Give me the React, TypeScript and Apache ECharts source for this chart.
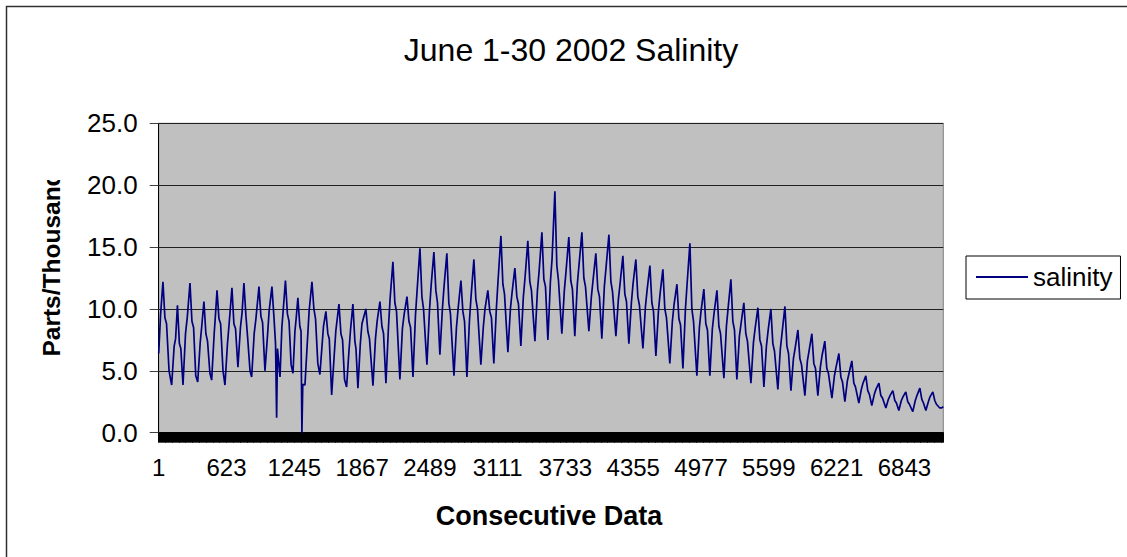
import React, { useEffect, useRef } from "react";
import * as echarts from "echarts";

const TITLE = "June 1-30 2002 Salinity";
const SERIES_NAME = "salinity";
const X_AXIS_NAME = "Consecutive Data";
const Y_AXIS_NAME = "Parts/Thousand";
const TOTAL_READINGS = 7200;
const LABEL_STEP = 622;
const Y_MIN = 0;
const Y_MAX = 25;
const Y_STEP = 5;

// reading number (0-based) of each turning point / shoulder (one tide per row)
const readingIndex = [
  0, 17, 39, 57, 72, 95, 119, 142, 155,
  172, 190, 203, 223, 246, 262,
  287, 305, 320, 340, 358, 381, 395,
  415, 433, 448, 470, 486, 509, 520,
  535, 553, 568, 590, 608, 631, 648,
  672, 690, 705, 727, 750, 765,
  782, 800, 815, 838, 853, 876, 892,
  920, 938, 953, 975, 998, 1013,
  1039, 1057, 1072, 1082, 1090, 1113, 1130, 1145,
  1163, 1181, 1196, 1215, 1232, 1250, 1262,
  1277, 1295, 1306, 1314, 1322, 1342, 1365, 1380,
  1406, 1424, 1439, 1460, 1479, 1500, 1512,
  1534, 1552, 1565, 1587, 1610, 1625,
  1654, 1672, 1687, 1705, 1724, 1745, 1760,
  1782, 1800, 1810, 1828, 1850, 1865,
  1901, 1919, 1934, 1966, 1989, 2004,
  2030, 2048, 2063, 2085, 2108, 2123,
  2149, 2167, 2182, 2213, 2236, 2251,
  2278, 2296, 2311, 2333, 2356, 2371,
  2397, 2415, 2430, 2461, 2484, 2499,
  2525, 2543, 2558, 2580, 2603, 2618,
  2644, 2662, 2677, 2709, 2732, 2747,
  2773, 2791, 2806, 2828, 2851, 2866,
  2892, 2910, 2925, 2956, 2979, 2994,
  3020, 3038, 3053, 3075, 3098, 3113,
  3140, 3158, 3173, 3204, 3227, 3242,
  3268, 3286, 3301, 3323, 3346, 3361,
  3387, 3405, 3420, 3452, 3475, 3490,
  3516, 3534, 3549, 3571, 3594, 3609,
  3635, 3653, 3668, 3699, 3722, 3737,
  3763, 3781, 3796, 3818, 3841, 3856,
  3883, 3901, 3916, 3947, 3970, 3985,
  4011, 4029, 4044, 4066, 4089, 4104,
  4131, 4149, 4164, 4195, 4218, 4233,
  4259, 4277, 4292, 4314, 4337, 4352,
  4378, 4396, 4411, 4443, 4466, 4481,
  4507, 4525, 4540, 4562, 4585, 4600,
  4626, 4644, 4659, 4690, 4713, 4728,
  4755, 4773, 4788, 4810, 4833, 4848,
  4874, 4892, 4907, 4938, 4961, 4976,
  5002, 5020, 5035, 5057, 5080, 5095,
  5122, 5140, 5155, 5186, 5209, 5224,
  5250, 5268, 5283, 5305, 5328, 5343,
  5369, 5387, 5402, 5434, 5457, 5472,
  5498, 5516, 5531, 5553, 5576, 5591,
  5617, 5635, 5650, 5681, 5704, 5719,
  5746, 5764, 5779, 5801, 5824, 5839,
  5865, 5883, 5898, 5929, 5952, 5967,
  5993, 6011, 6026, 6048, 6071, 6086,
  6112, 6130, 6145, 6177, 6200, 6215,
  6241, 6259, 6274, 6296, 6319, 6334,
  6360, 6378, 6393, 6424, 6447, 6462,
  6488, 6506, 6521, 6543, 6566, 6581,
  6608, 6626, 6641, 6672, 6695, 6710,
  6736, 6754, 6769, 6791, 6814, 6829,
  6855, 6873, 6888, 6919, 6942, 6957,
  6984, 7002, 7017, 7039, 7062, 7077,
  7103, 7121, 7136, 7167, 7185, 7199,
];

// salinity (parts per thousand) at those readings, same rows
const salinity = [
  6.4, 9.5, 12.2, 9.3, 8.8, 5.0, 3.85, 7.0, 7.6,
  10.3, 7.2, 6.8, 3.85, 8.0, 9.3,
  12.1, 9.0, 8.5, 4.6, 4.1, 7.3, 8.6,
  10.6, 8.0, 7.4, 4.8, 4.25, 8.0, 9.4,
  11.5, 9.2, 8.8, 5.0, 3.85, 7.2, 9.0,
  11.7, 8.8, 8.4, 5.3, 8.5, 9.7,
  12.1, 9.5, 7.8, 5.0, 4.5, 8.0, 9.2,
  11.8, 9.4, 8.9, 5.0, 7.8, 9.8,
  11.8, 9.4, 7.2, 1.2, 6.8, 4.5, 8.5, 10.2,
  12.3, 9.6, 9.0, 5.5, 4.8, 8.2, 9.3,
  10.9, 8.6, 8.2, 0.0, 3.9, 3.85, 7.5, 9.8,
  12.2, 10.0, 9.2, 5.6, 4.7, 7.2, 8.6,
  9.8, 8.0, 7.6, 3.05, 6.2, 8.2,
  10.4, 8.0, 7.5, 4.3, 3.7, 6.5, 8.3,
  10.4, 7.4, 6.8, 3.6, 7.2, 8.8,
  10.0, 8.2, 7.6, 3.8, 7.6, 9.0,
  10.6, 8.6, 8.0, 4.0, 8.5, 10.8,
  13.8, 10.5, 9.8, 4.3, 8.4, 9.5,
  11.0, 9.0, 8.5, 4.5, 9.5, 11.5,
  14.9, 11.0, 10.0, 5.5, 9.8, 11.8,
  14.6, 11.5, 10.5, 6.3, 10.0, 11.8,
  14.5, 10.5, 9.6, 4.6, 8.5, 10.0,
  12.3, 9.8, 9.0, 4.5, 9.0, 11.0,
  14.0, 10.8, 10.0, 5.5, 8.6, 10.0,
  11.5, 9.8, 9.3, 5.6, 10.0, 12.2,
  15.9, 12.0, 11.2, 6.5, 10.0, 11.3,
  13.3, 11.0, 10.4, 7.0, 11.0, 12.5,
  15.5, 12.2, 11.5, 7.4, 11.5, 13.0,
  16.2, 12.4, 11.8, 7.5, 12.2, 14.0,
  19.5, 13.5, 12.3, 8.0, 11.5, 13.0,
  15.8, 12.3, 11.6, 7.8, 12.0, 13.5,
  16.2, 12.5, 11.8, 8.2, 11.0, 12.3,
  14.5, 11.6, 11.0, 7.6, 11.8, 13.3,
  16.0, 12.2, 11.4, 7.8, 10.8, 12.0,
  14.3, 11.2, 10.6, 7.2, 10.5, 12.0,
  14.0, 11.0, 10.3, 6.8, 10.2, 11.5,
  13.5, 10.5, 9.8, 6.2, 9.8, 11.2,
  13.2, 10.0, 9.3, 5.6, 9.0, 10.3,
  12.0, 9.2, 8.7, 5.2, 10.0, 12.0,
  15.3, 10.0, 9.0, 4.6, 8.5, 9.8,
  11.6, 8.8, 8.3, 4.6, 8.4, 9.6,
  11.5, 8.6, 8.0, 4.4, 8.6, 10.0,
  12.4, 9.0, 8.3, 4.3, 7.8, 8.8,
  10.5, 8.0, 7.4, 4.0, 7.3, 8.4,
  10.1, 7.5, 7.0, 3.7, 7.0, 8.2,
  10.0, 7.2, 6.6, 3.5, 6.8, 8.0,
  10.2, 7.0, 6.4, 3.4, 6.0, 6.8,
  8.3, 6.0, 5.5, 3.0, 5.8, 6.6,
  8.0, 5.6, 5.2, 3.0, 5.3, 6.2,
  7.4, 5.2, 4.8, 2.8, 4.6, 5.3,
  6.4, 4.5, 4.1, 2.5, 4.2, 4.8,
  5.8, 4.0, 3.7, 2.4, 3.5, 4.0,
  4.6, 3.4, 3.1, 2.2, 3.1, 3.5,
  4.0, 3.0, 2.8, 2.0, 2.7, 3.0,
  3.4, 2.6, 2.4, 1.8, 2.6, 2.9,
  3.3, 2.5, 2.3, 1.7, 2.6, 3.0,
  3.6, 2.7, 2.4, 1.8, 2.5, 2.9,
  3.3, 2.6, 2.3, 2.0, 2.0, 2.1,
];

const FONT = "'Liberation Sans', Arial, Helvetica, sans-serif";

export default function App() {
  const ref = useRef<HTMLDivElement>(null);

  useEffect(() => {
    if (!ref.current) return;
    const chart = echarts.init(ref.current, undefined, { renderer: "svg" });
    const n = Math.min(readingIndex.length, salinity.length);
    const data = readingIndex.slice(0, n).map((x, i) => [x, salinity[i]]);
    const xMax = TOTAL_READINGS - 1;

    chart.setOption({
      animation: false,
      backgroundColor: "#ffffff",
      textStyle: { fontFamily: FONT },
      grid: {
        left: 158.7,
        top: 123.3,
        width: 784.6,
        height: 309.4,
        show: true,
        backgroundColor: "#c0c0c0",
        borderColor: "#808080",
        borderWidth: 1,
      },
      legend: {
        left: 966,
        top: 256,
        orient: "vertical",
        padding: [8, 8, 9, 10],
        borderColor: "#000",
        borderWidth: 1,
        backgroundColor: "#fff",
        itemWidth: 52,
        itemHeight: 2,
        icon: "rect",
        textStyle: { fontSize: 26, color: "#000", fontFamily: FONT },
        data: [SERIES_NAME],
      },
      xAxis: [
        {
          type: "value",
          min: 0,
          max: xMax,
          interval: LABEL_STEP,
          axisLine: { show: false },
          axisTick: { show: false },
          splitLine: { show: false },
          axisLabel: {
            formatter: (v: number) => String(v + 1),
            showMaxLabel: false,
            fontSize: 24,
            color: "#000",
            margin: 23,
            fontFamily: FONT,
          },
        },
        {
          type: "value",
          min: 0,
          max: xMax,
          interval: 8,
          position: "bottom",
          axisLabel: { show: false },
          axisLine: { show: true, lineStyle: { color: "#000", width: 1 } },
          axisTick: { show: true, length: 10, lineStyle: { color: "#000", width: 1 } },
          splitLine: { show: false },
        },
      ],
      yAxis: {
        type: "value",
        min: Y_MIN,
        max: Y_MAX,
        interval: Y_STEP,
        axisLine: { show: true, lineStyle: { color: "#000", width: 1 } },
        axisTick: { show: true, length: 9, lineStyle: { color: "#404040", width: 1 } },
        splitLine: { show: true, lineStyle: { color: "#202020", width: 1 } },
        axisLabel: {
          formatter: (v: number) => v.toFixed(1),
          fontSize: 26,
          color: "#000",
          margin: 21,
          fontFamily: FONT,
        },
      },
      series: [
        {
          name: SERIES_NAME,
          type: "line",
          xAxisIndex: 0,
          data,
          symbol: "none",
          lineStyle: { color: "#000080", width: 1.7 },
          itemStyle: { color: "#000080" },
        },
      ],
      graphic: [
        {
          type: "rect",
          shape: { x: 6.5, y: 6.5, width: 1400, height: 900 },
          style: { fill: "none", stroke: "#303030", lineWidth: 1.5 },
          z: 10,
        },
        {
          type: "text",
          x: 571,
          y: 50,
          style: {
            text: TITLE,
            align: "center",
            verticalAlign: "middle",
            font: `32px ${FONT}`,
            fill: "#000",
          },
          z: 10,
        },
        {
          type: "text",
          x: 549,
          y: 516,
          style: {
            text: X_AXIS_NAME,
            align: "center",
            verticalAlign: "middle",
            font: `bold 27px ${FONT}`,
            fill: "#000",
          },
          z: 10,
        },
        {
          type: "text",
          x: 51,
          y: 264,
          rotation: Math.PI / 2,
          style: {
            text: Y_AXIS_NAME,
            align: "center",
            verticalAlign: "middle",
            font: `bold 24.5px ${FONT}`,
            fill: "#000",
          },
          z: 10,
        },
        {
          type: "rect",
          shape: { x: 30, y: 120, width: 45, height: 60 },
          style: { fill: "#fff" },
          z: 20,
        },
      ],
    });

    return () => chart.dispose();
  }, []);

  return (
    <div
      ref={ref}
      style={{ position: "fixed", left: 0, top: 0, width: 1127, height: 557 }}
    />
  );
}
